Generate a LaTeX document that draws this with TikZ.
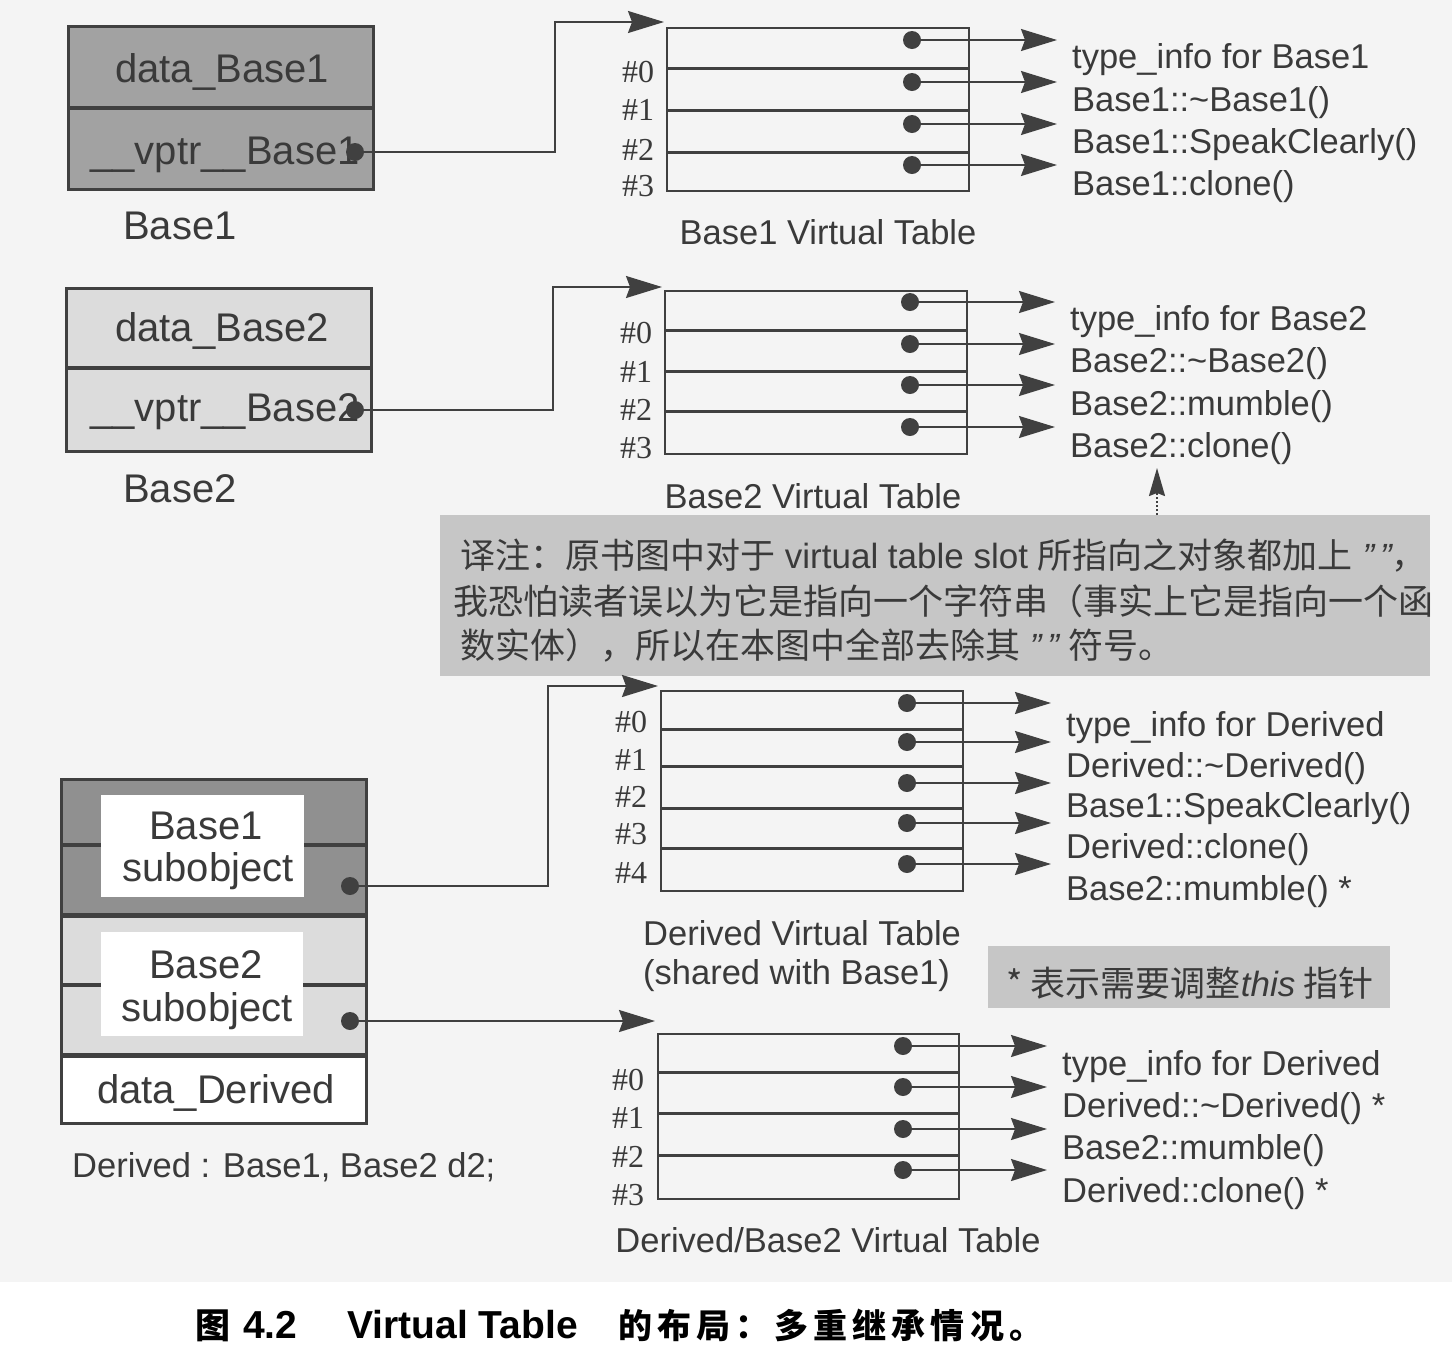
\documentclass[tikz,border=0pt]{standalone}
\usepackage{fontspec}
\setmainfont{Liberation Sans}
\newfontfamily\serif{Liberation Serif}
\newfontfamily\cjk{Noto Sans CJK SC}
\newfontfamily\cjkcap{Noto Sans CJK SC}[LetterSpace=15]
\usetikzlibrary{arrows.meta}
\definecolor{ink}{HTML}{3A3A3A}
\definecolor{linec}{HTML}{404040}
\definecolor{bgc}{HTML}{F4F4F4}
\definecolor{darkfill}{HTML}{A2A2A2}
\definecolor{darkfillb}{HTML}{909090}
\definecolor{lightfill}{HTML}{DCDCDC}
\definecolor{notefill}{HTML}{C6C6C6}
\begin{document}
\begin{tikzpicture}[x=1pt,y=-1pt,
  box/.style={draw=linec, line width=2.5pt, inner sep=0pt, anchor=north west},
  divider/.style={draw=linec, line width=4pt},
  vtab/.style={draw=linec, line width=2pt, inner sep=0pt, anchor=north west},
  vdiv/.style={draw=linec, line width=3pt},
  dot/.style={circle, fill=linec, inner sep=0pt, minimum size=18pt},
  ptr/.style={draw=linec, line width=1.8pt, -{Stealth[length=36pt,width=22pt,inset=4pt]}},
  small/.style={inner sep=0pt, text=ink, font=\fontsize{34.5}{40}\selectfont},
  big/.style={inner sep=0pt, text=ink, font=\fontsize{40}{46}\selectfont},
  hash/.style={inner sep=0pt, text=ink, font=\serif\fontsize{32}{38}\selectfont},
  cjktxt/.style={inner sep=0pt, text=ink, font=\cjk\fontsize{35}{46}\selectfont}]
\useasboundingbox (0,0) rectangle (1452,1345);
\fill[bgc] (0,0) rectangle (1452,1282);
\fill[white] (0,1282) rectangle (1452,1345);

% ---------------- Base1 object
\node[box, fill=darkfill, minimum width=305pt, minimum height=163pt] (b1) at (67,25) {};
\draw[divider] (b1.west |- 0,108) -- (b1.east |- 0,108);
\node[big] (b1data) at (222,72) {data\_Base1};
\node[big] (b1vp) at (225,155) {\_\_vptr\_\_Base1};
\node[dot] (b1ptr) at (355,152) {};
\node[big] (b1lab) at (180,226) {Base1};

% ---------------- Base1 vtable
\node[vtab, minimum width=302pt, minimum height=163pt] (vt1) at (666,27) {};
\foreach \y in {68,110,152} \draw[vdiv] (vt1.west |- 0,\y) -- (vt1.east |- 0,\y);
\foreach \i/\y in {0/72,1/110,2/150,3/186} \node[hash] (vt1h\i) at (638,\y) {\#\i};
\foreach \i/\y/\ty/\lbl in {0/40/68/{type\_info for Base1},1/82/111/{Base1::\textasciitilde Base1()},2/124/153/{Base1::SpeakClearly()},3/165/195/{Base1::clone()}}{
  \node[dot] (vt1d\i) at (912,\y) {};
  \node[small, anchor=base west] (vt1t\i) at (1072,\ty) {\lbl};
  \draw[ptr, shorten >=15pt] (vt1d\i.center) -- (vt1d\i -| vt1t\i.west);
}
\node[small] (vt1lab) at (828,232) {Base1 Virtual Table};
\coordinate (vt1in) at (664,22);
\draw[ptr] (b1ptr.center) -| ([xshift=-109pt]vt1in) -- (vt1in);

% ---------------- Base2 object
\node[box, fill=lightfill, minimum width=305pt, minimum height=163pt] (b2) at (65,287) {};
\draw[divider] (b2.west |- 0,368) -- (b2.east |- 0,368);
\node[big] (b2data) at (222,331) {data\_Base2};
\node[big] (b2vp) at (225,412) {\_\_vptr\_\_Base2};
\node[dot] (b2ptr) at (355,410) {};
\node[big] (b2lab) at (180,489) {Base2};

% ---------------- Base2 vtable
\node[vtab, minimum width=302pt, minimum height=163pt] (vt2) at (664,290) {};
\foreach \y in {330,371,411} \draw[vdiv] (vt2.west |- 0,\y) -- (vt2.east |- 0,\y);
\foreach \i/\y in {0/333,1/372,2/410,3/448} \node[hash] (vt2h\i) at (636,\y) {\#\i};
\foreach \i/\y/\ty/\lbl in {0/302/330/{type\_info for Base2},1/344/372/{Base2::\textasciitilde Base2()},2/385/415/{Base2::mumble()},3/427/457/{Base2::clone()}}{
  \node[dot] (vt2d\i) at (910,\y) {};
  \node[small, anchor=base west] (vt2t\i) at (1070,\ty) {\lbl};
  \draw[ptr, shorten >=15pt] (vt2d\i.center) -- (vt2d\i -| vt2t\i.west);
}
\node[small] (vt2lab) at (813,496) {Base2 Virtual Table};
\coordinate (vt2in) at (662,287);
\draw[ptr] (b2ptr.center) -| ([xshift=-109pt]vt2in) -- (vt2in);

% ---------------- translator's note
\node[fill=notefill, inner sep=0pt, anchor=north west, minimum width=990pt, minimum height=161pt] (ann) at (440,515) {};
\node[cjktxt, anchor=base west] (ann1) at (460,568) {译注：原书图中对于{\rmfamily\ virtual table slot\ }所指向之对象都加上{\rmfamily\itshape\ "\,"}，};
\node[cjktxt, anchor=base west] (ann2) at (453,614) {我恐怕读者误以为它是指向一个字符串（事实上它是指向一个函};
\node[cjktxt, anchor=base west] (ann3) at (460,658) {数实体），所以在本图中全部去除其{\rmfamily\itshape\ "\,"\ }符号。};
\coordinate (annup) at (1157,468);
\draw[linec, line width=2pt, dotted, -{Stealth[length=28pt,width=16pt,inset=3pt]}] (ann.north -| annup) -- (annup);

% ---------------- Derived object
\node[box, fill=darkfillb, minimum width=305pt, minimum height=135pt] (ds1) at (60,778) {};
\node[box, fill=lightfill, minimum width=305pt, minimum height=140pt] (ds2) at (60,913) {};
\node[box, fill=white, minimum width=305pt, minimum height=69pt] (ds3) at (60,1053) {};
\draw[divider] (ds1.west |- 0,845) -- (ds1.east |- 0,845);
\draw[divider] (ds2.west |- 0,985) -- (ds2.east |- 0,985);
\draw[divider] (ds1.south west) -- (ds1.south east);
\draw[divider] (ds2.south west) -- (ds2.south east);
\node[fill=white, inner sep=0pt, anchor=north west, minimum width=203pt, minimum height=102pt] (d1in) at (101,795) {};
\node[fill=white, inner sep=0pt, anchor=north west, minimum width=202pt, minimum height=104pt] (d2in) at (101,932) {};
\node[big] (d1a) at (206,826) {Base1};
\node[big] (d1b) at (208,871) {subobject};
\node[big] (d2a) at (206,965) {Base2};
\node[big] (d2b) at (207,1011) {subobject};
\node[big] (d3) at (216,1093) {data\_Derived};
\node[dot] (d1ptr) at (350,886) {};
\node[dot] (d2ptr) at (350,1021) {};
\node[small, anchor=base west] (dlab) at (72,1177) {Derived : Base1, Base2 d2;};

% ---------------- Derived vtable
\node[vtab, minimum width=302pt, minimum height=200pt] (vt3) at (660,690) {};
\foreach \y in {729,766,808,848} \draw[vdiv] (vt3.west |- 0,\y) -- (vt3.east |- 0,\y);
\foreach \i/\y in {0/722,1/760,2/797,3/834,4/873} \node[hash] (vt3h\i) at (631,\y) {\#\i};
\foreach \i/\y/\ty/\lbl in {0/703/736/{type\_info for Derived},1/742/777/{Derived::\textasciitilde Derived()},2/783/817/{Base1::SpeakClearly()},3/823/858/{Derived::clone()},4/864/900/{Base2::mumble() *}}{
  \node[dot] (vt3d\i) at (907,\y) {};
  \node[small, anchor=base west] (vt3t\i) at (1066,\ty) {\lbl};
  \draw[ptr, shorten >=15pt] (vt3d\i.center) -- (vt3d\i -| vt3t\i.west);
}
\node[small, anchor=base west] (vt3lab1) at (643,945) {Derived Virtual Table};
\node[small, anchor=base west] (vt3lab2) at (643,984) {(shared with Base1)};
\coordinate (vt3in) at (658,686);
\draw[ptr] (d1ptr.center) -| ([xshift=-110pt]vt3in) -- (vt3in);

% ---------------- this-adjust note
\node[fill=notefill, inner sep=0pt, anchor=north west, minimum width=402pt, minimum height=62pt] (note) at (988,946) {};
\node[cjktxt] (notet) at (1190,983) {* 表示需要调整{\rmfamily\itshape this} 指针};

% ---------------- Derived/Base2 vtable
\node[vtab, minimum width=301pt, minimum height=165pt] (vt4) at (657,1033) {};
\foreach \y in {1072,1113,1155} \draw[vdiv] (vt4.west |- 0,\y) -- (vt4.east |- 0,\y);
\foreach \i/\y in {0/1080,1/1118,2/1157,3/1195} \node[hash] (vt4h\i) at (628,\y) {\#\i};
\foreach \i/\y/\ty/\lbl in {0/1046/1075/{type\_info for Derived},1/1087/1117/{Derived::\textasciitilde Derived() *},2/1129/1159/{Base2::mumble()},3/1170/1202/{Derived::clone() *}}{
  \node[dot] (vt4d\i) at (903,\y) {};
  \node[small, anchor=base west] (vt4t\i) at (1062,\ty) {\lbl};
  \draw[ptr, shorten >=15pt] (vt4d\i.center) -- (vt4d\i -| vt4t\i.west);
}
\node[small] (vt4lab) at (828,1240) {Derived/Base2 Virtual Table};
\coordinate (vt4in) at (655,1021);
\draw[ptr] (d2ptr.center) -- (vt4in);

% ---------------- caption
\node[inner sep=0pt, anchor=base west, font=\cjk\bfseries\fontsize{35}{40}\selectfont] (cap1) at (195,1338) {图};
\node[inner sep=0pt, anchor=base west, font=\bfseries\fontsize{39}{44}\selectfont] (cap2) at (243,1338) {4.2};
\node[inner sep=0pt, anchor=base west, font=\bfseries\fontsize{39}{44}\selectfont] (cap3) at (347,1338) {Virtual Table};
\node[inner sep=0pt, anchor=base west, font=\cjkcap\bfseries\fontsize{34}{40}\selectfont] (cap4) at (618,1338) {的布局：多重继承情况。};
\end{tikzpicture}
\end{document}
